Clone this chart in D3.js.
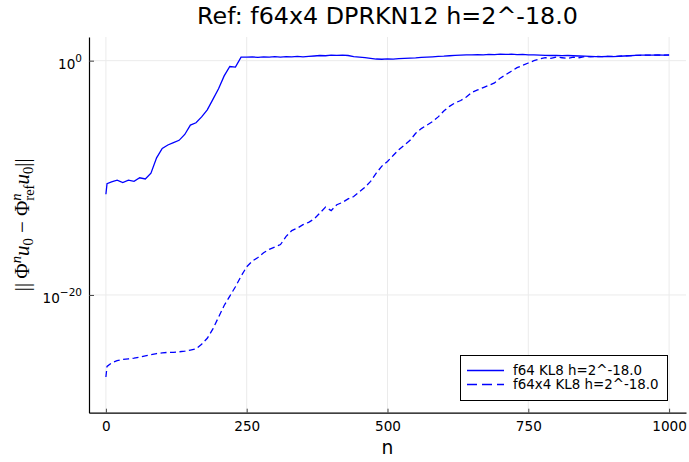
<!DOCTYPE html>
<html>
<head>
<meta charset="utf-8">
<script src="https://cdn.jsdelivr.net/npm/d3@7"></script>
<style>
  body { margin: 0; background: #fff; }
  text { font-family: "DejaVu Sans", sans-serif; fill: #000; }
</style>
</head>
<body>
<div id="chart"></div>
<script>
// step numbers (shared by both series)
var steps = [0, 2, 10, 20, 30, 40, 50, 60, 70, 80, 90, 100, 110, 120, 130, 140, 150, 160, 170, 180, 190,
  200, 210, 220, 230, 240, 250, 260, 270, 280, 290, 300, 310, 320, 330, 340, 350, 360, 370, 380, 390,
  400, 410, 420, 430, 440, 450, 460, 470, 480, 490, 500, 510, 520, 530, 540, 550, 560, 570, 580, 590,
  600, 610, 620, 630, 640, 650, 660, 670, 680, 690, 700, 710, 720, 730, 740, 750, 760, 770, 780, 790,
  800, 810, 820, 830, 840, 850, 860, 870, 880, 890, 900, 910, 920, 930, 940, 950, 960, 970, 980, 990, 1000];

// log10 of the error
var f64Exp = [-11.4, -10.5, -10.35, -10.2, -10.4, -10.2, -10.3, -10.0, -10.1, -9.6, -8.3,
  -7.5, -7.2, -7.0, -6.8, -6.3, -5.5, -5.3, -4.8, -4.2, -3.3,
  -2.4, -1.3, -0.5, -0.55, 0.3, 0.3, 0.32, 0.28, 0.33, 0.3, 0.34, 0.31, 0.35, 0.32, 0.36,
  0.33, 0.37, 0.4, 0.44, 0.42, 0.47, 0.45, 0.48, 0.44, 0.35, 0.3, 0.26, 0.2, 0.14, 0.12,
  0.15, 0.13, 0.18, 0.2, 0.22, 0.24, 0.28, 0.3, 0.33, 0.36, 0.38, 0.42, 0.45, 0.48, 0.5,
  0.49, 0.52, 0.5, 0.53, 0.52, 0.55, 0.53, 0.55, 0.52, 0.54, 0.5, 0.49, 0.47, 0.46, 0.44,
  0.45, 0.43, 0.44, 0.42, 0.4, 0.38, 0.36, 0.35, 0.34, 0.36, 0.35, 0.37, 0.4, 0.42, 0.45,
  0.47, 0.48, 0.47, 0.49, 0.48, 0.49];

var f64x4Exp = [-27.0, -26.1, -25.8, -25.6, -25.5, -25.45, -25.4, -25.3, -25.2, -25.1, -25.0,
  -24.95, -24.9, -24.9, -24.85, -24.8, -24.7, -24.6, -24.2, -23.7, -22.9,
  -21.9, -20.9, -20.1, -19.3, -18.4, -17.6, -17.1, -16.8, -16.4, -16.1, -15.9, -15.7, -15.0, -14.5, -14.3,
  -14.0, -13.8, -13.5, -13.0, -12.5, -12.8, -12.3, -12.1, -11.8, -11.6, -11.2, -10.8, -10.3, -9.6, -9.0,
  -8.6, -8.1, -7.6, -7.2, -6.8, -6.2, -5.8, -5.5, -5.2, -4.8, -4.3, -3.9, -3.6, -3.4, -3.1,
  -2.7, -2.5, -2.3, -2.1, -1.9, -1.5, -1.2, -0.9, -0.6, -0.4, -0.2, 0.0, 0.15, 0.25, 0.2,
  0.3, 0.25, 0.2, 0.3, 0.25, 0.35, 0.33, 0.36, 0.34, 0.37, 0.36, 0.38, 0.41, 0.43, 0.45,
  0.46, 0.48, 0.46, 0.48, 0.47, 0.48];

var xTicks = [0, 250, 500, 750, 1000];
var yTickExps = [-20, 0];
var seriesNames = ["f64 KL8 h=2^-18.0", "f64x4 KL8 h=2^-18.0"];

var W = 689, H = 462;
var plot = { left: 89, right: 686, top: 37, bottom: 412.7 };

var svg = d3.select("#chart").append("svg")
    .attr("width", W)
    .attr("height", H);

var x = d3.scaleLinear().domain([-30, 1030]).range([plot.left, plot.right]);
var y = d3.scaleLog().domain([Math.pow(10, -30.05), Math.pow(10, 2.02)]).range([plot.bottom, plot.top]);

// grid
svg.append("g").selectAll("line")
    .data(xTicks)
    .enter().append("line")
    .attr("x1", function (d) { return x(d); })
    .attr("x2", function (d) { return x(d); })
    .attr("y1", plot.top)
    .attr("y2", plot.bottom)
    .attr("stroke", "#ebebeb");
svg.append("g").selectAll("line")
    .data(yTickExps)
    .enter().append("line")
    .attr("x1", plot.left)
    .attr("x2", plot.right)
    .attr("y1", function (d) { return y(Math.pow(10, d)); })
    .attr("y2", function (d) { return y(Math.pow(10, d)); })
    .attr("stroke", "#ebebeb");

// lines
svg.append("clipPath").attr("id", "clip")
    .append("rect")
    .attr("x", plot.left).attr("y", plot.top)
    .attr("width", plot.right - plot.left).attr("height", plot.bottom - plot.top);

var line = d3.line()
    .x(function (d) { return x(d[0]); })
    .y(function (d) { return y(Math.pow(10, d[1])); });

var g = svg.append("g").attr("clip-path", "url(#clip)");
g.append("path")
    .datum(d3.zip(steps, f64Exp))
    .attr("d", line)
    .attr("fill", "none")
    .attr("stroke", "#0000ff")
    .attr("stroke-width", 1.3);
g.append("path")
    .datum(d3.zip(steps, f64x4Exp))
    .attr("d", line)
    .attr("fill", "none")
    .attr("stroke", "#0000ff")
    .attr("stroke-width", 1.3)
    .attr("stroke-dasharray", "6,3.5");

// axes
var xAxis = d3.axisBottom(x)
    .tickValues(xTicks)
    .tickFormat(d3.format("d"))
    .tickSizeInner(-4)
    .tickSizeOuter(0)
    .tickPadding(9);
var xg = svg.append("g")
    .attr("transform", "translate(0," + plot.bottom + ")")
    .call(xAxis);
xg.selectAll("text").attr("font-size", 13.6).attr("font-family", "DejaVu Sans");
xg.select(".domain").attr("stroke", "#000").attr("stroke-width", 1.2);
xg.selectAll(".tick line").attr("stroke", "#444");

var yAxis = d3.axisLeft(y)
    .tickValues(yTickExps.map(function (e) { return Math.pow(10, e); }))
    .tickSizeInner(-5)
    .tickSizeOuter(0)
    .tickPadding(7)
    .tickFormat("");
var yg = svg.append("g")
    .attr("transform", "translate(" + plot.left + ",0)")
    .call(yAxis);
yg.select(".domain").attr("stroke", "#000").attr("stroke-width", 1.2);
yg.selectAll(".tick line").attr("stroke", "#444");
yg.selectAll(".tick text")
    .attr("font-size", 13.6)
    .attr("font-family", "DejaVu Sans")
    .attr("dy", "0.55em")
    .each(function (d) {
        var t = d3.select(this);
        var e = Math.round(Math.log10(d));
        t.append("tspan").text("10");
        t.append("tspan").attr("font-size", 10.5).attr("dy", -7)
            .text(e < 0 ? "\u2212" + (-e) : String(e));
    });

// title
svg.append("text")
    .attr("x", (plot.left + plot.right) / 2)
    .attr("y", 24)
    .attr("text-anchor", "middle")
    .attr("font-size", 23.8)
    .text("Ref: f64x4 DPRKN12 h=2^-18.0");

// x label
svg.append("text")
    .attr("x", (plot.left + plot.right) / 2)
    .attr("y", 454)
    .attr("text-anchor", "middle")
    .attr("font-size", 18.7)
    .text("n");

// y label
var yl = svg.append("text")
    .attr("transform", "translate(29," + ((plot.top + plot.bottom) / 2) + ") rotate(-90)")
    .attr("text-anchor", "middle")
    .attr("font-size", 21)
    .style("font-family", "'Liberation Serif', 'DejaVu Serif', serif");
yl.append("tspan").text("||\u2009\u03a6");
yl.append("tspan").attr("font-size", 14.5).attr("font-style", "italic").attr("dy", -8).text("n");
yl.append("tspan").attr("font-style", "italic").attr("dy", 8).text("u");
yl.append("tspan").attr("font-size", 14.5).attr("dy", 4).text("0");
yl.append("tspan").attr("dy", -4).text(" \u2212 \u03a6");
var ref = yl.append("tspan").attr("font-size", 14.5).attr("dy", 5).text("ref");
var refLen = ref.node().getComputedTextLength();
var sup = yl.append("tspan").attr("font-size", 14.5).attr("font-style", "italic")
    .attr("dx", -refLen).attr("dy", -13).text("n");
var supLen = sup.node().getComputedTextLength();
yl.append("tspan").attr("font-style", "italic").attr("dx", refLen - supLen).attr("dy", 8).text("u");
yl.append("tspan").attr("font-size", 14.5).attr("dy", 4).text("0");
yl.append("tspan").attr("dy", -4).text("||");

// legend
var leg = svg.append("g");
leg.append("rect")
    .attr("x", 460.5).attr("y", 355.5)
    .attr("width", 207).attr("height", 45)
    .attr("fill", "#fff")
    .attr("stroke", "#000")
    .attr("stroke-width", 1);
seriesNames.forEach(function (name, i) {
    var ly = 370.5 + i * 14;
    leg.append("line")
        .attr("x1", 467).attr("x2", 504)
        .attr("y1", ly).attr("y2", ly)
        .attr("stroke", "#0000ff")
        .attr("stroke-width", 1.3)
        .attr("stroke-dasharray", i === 1 ? "10,5" : null);
    leg.append("text")
        .attr("x", 513)
        .attr("y", ly)
        .attr("dy", "0.35em")
        .attr("font-size", 13.4)
        .text(name);
});
</script>
</body>
</html>
